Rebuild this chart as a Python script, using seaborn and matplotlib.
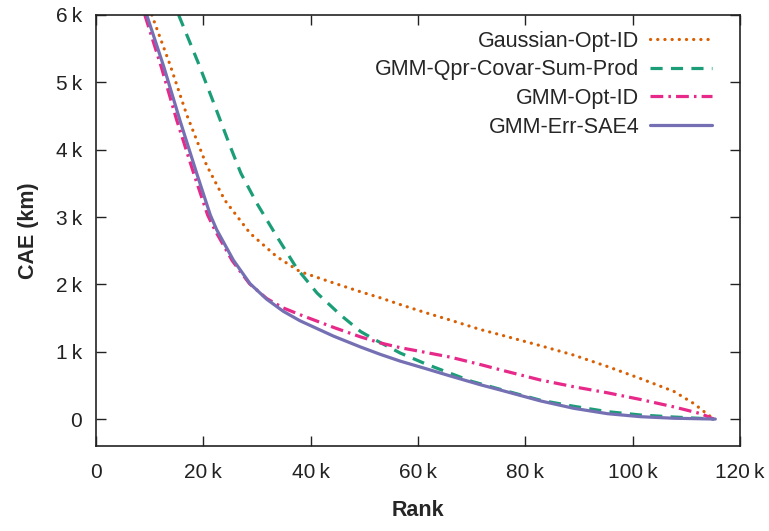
import matplotlib
matplotlib.use("Agg")
import matplotlib.pyplot as plt
import seaborn as sns
import pandas as pd
from matplotlib.ticker import FuncFormatter, MultipleLocator

# Data (x: rank in thousands, y: CAE in thousands of km)
gauss_x = [10.4, 13.8, 16.9, 20.6, 24, 28.7, 33.7, 38, 44.3, 49.3, 53, 56.7, 61.4, 66, 71.6, 75.4, 82.8, 89, 95.3, 101.5, 107.7, 111.4, 114.6, 115.2]
gauss_y = [6.0, 5.26, 4.52, 3.77, 3.25, 2.76, 2.41, 2.19, 2.02, 1.89, 1.8, 1.7, 1.58, 1.47, 1.33, 1.25, 1.09, 0.95, 0.78, 0.6, 0.41, 0.23, 0.03, 0.0]

qpr_x = [15.4, 19, 22, 25, 27, 30, 33.7, 37.4, 41.2, 45.5, 49.3, 51.7, 56.7, 61.4, 66, 70, 75.4, 82.8, 89, 95.3, 101.5, 107.7, 115.2]
qpr_y = [6.0, 5.3, 4.68, 4.05, 3.65, 3.2, 2.71, 2.24, 1.87, 1.55, 1.3, 1.19, 0.98, 0.82, 0.68, 0.56, 0.44, 0.28, 0.19, 0.11, 0.06, 0.03, 0.0]

optid_x = [9.1, 12.2, 15, 18.2, 20.8, 22.2, 25.4, 28.6, 31.8, 34.9, 38, 44.3, 49.3, 53, 56.7, 61.4, 66, 71.6, 75.4, 82.8, 89, 95.3, 101.5, 107.7, 112.7, 115.1]
optid_y = [6.0, 5.22, 4.45, 3.65, 3.03, 2.8, 2.35, 2.01, 1.79, 1.65, 1.55, 1.36, 1.22, 1.13, 1.06, 0.99, 0.92, 0.81, 0.73, 0.58, 0.48, 0.39, 0.29, 0.18, 0.08, 0.0]

sae_x = [9.45, 12.6, 15.7, 18.8, 21.3, 22.5, 25.6, 28.7, 31.8, 34.9, 38, 44.3, 49.3, 53, 56.7, 61.4, 66, 71.6, 75.4, 82.8, 89, 95.3, 101.5, 107.7, 115.4]
sae_y = [6.0, 5.24, 4.42, 3.64, 3.03, 2.81, 2.36, 2.01, 1.78, 1.6, 1.46, 1.23, 1.07, 0.96, 0.86, 0.75, 0.64, 0.51, 0.43, 0.27, 0.16, 0.08, 0.035, 0.012, 0.0]

labels = ["Gaussian-Opt-ID", "GMM-Qpr-Covar-Sum-Prod", "GMM-Opt-ID", "GMM-Err-SAE4"]
colors = ["#D95F02", "#1B9E77", "#E7298A", "#7570B3"]
dash_styles = [(0, (0.05, 2.2)), (0, (3.8, 2.6)), (0, (4, 1.6, 0.8, 1.6)), "-"]
cap_styles = ["round", "butt", "butt", "butt"]

sns.set_style("ticks")
plt.rcParams["font.family"] = ["Liberation Sans", "DejaVu Sans"]

fig = plt.figure(figsize=(7.69, 5.31), dpi=100)
ax = fig.add_axes([96 / 769, 1 - 446 / 531, (740 - 96) / 769, (446 - 15) / 531])

series = [(gauss_x, gauss_y), (qpr_x, qpr_y), (optid_x, optid_y), (sae_x, sae_y)]
for (xs, ys), lab, col, ls, cap in zip(series, labels, colors, dash_styles, cap_styles):
    df = pd.DataFrame({"x": [v * 1000 for v in xs], "y": [v * 1000 for v in ys]})
    sns.lineplot(data=df, x="x", y="y", ax=ax, color=col, linestyle=ls, linewidth=2.3,
                 label=lab, estimator=None, sort=False, dash_capstyle=cap)

ax.set_xlim(0, 120000)
ax.set_ylim(-400, 6000)
ax.xaxis.set_major_locator(MultipleLocator(20000))
ax.yaxis.set_major_locator(MultipleLocator(1000))
fmt = FuncFormatter(lambda v, p: "0" if abs(v) < 1e-9 else f"{int(round(v / 1000))}\u2009k")
ax.xaxis.set_major_formatter(fmt)
ax.yaxis.set_major_formatter(fmt)
ax.tick_params(direction="in", length=7, width=1, labelsize=15, top=True, right=True,
               color="#222222", labelcolor="#222222")
ax.tick_params(axis="x", pad=12)
ax.tick_params(axis="y", pad=10)
for s in ax.spines.values():
    s.set_visible(True)
    s.set_linewidth(1.2)
    s.set_color("#222222")

ax.set_xlabel("Rank", fontsize=15.5, fontweight="bold", labelpad=13)
ax.set_ylabel("CAE (km)", fontsize=15.5, fontweight="bold", labelpad=12)

leg = ax.legend(loc="upper right", bbox_to_anchor=(0.9565, 0.963), frameon=False, markerfirst=False,
                borderaxespad=0, borderpad=0,
                fontsize=15.5, handlelength=2.9, handletextpad=0.47, labelspacing=0.35)

fig.savefig("out.png", dpi=100)
